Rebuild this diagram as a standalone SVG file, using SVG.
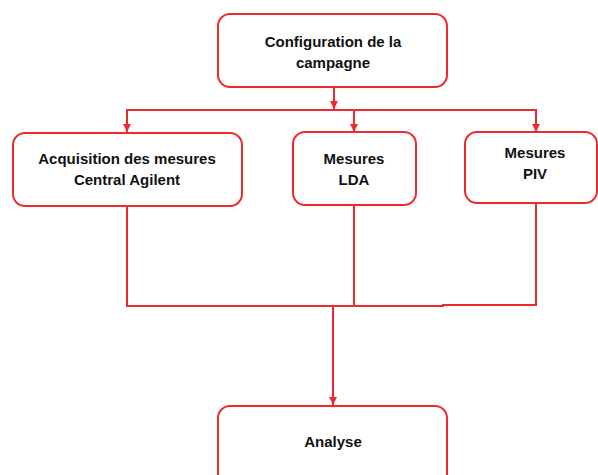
<svg xmlns="http://www.w3.org/2000/svg" width="598" height="475" viewBox="0 0 598 475">
  <style>
    .box { fill: #ffffff; stroke: #ee2a2f; stroke-width: 2; }
    .lbl { font-family: "Liberation Sans", Arial, sans-serif; font-size: 15px; font-weight: bold; fill: #111111; text-anchor: middle; }
    .conn { fill: none; stroke: #ee2a2f; stroke-width: 2; }
  </style>
  <defs>
    <marker id="arr" viewBox="0 0 8 8" refX="8" refY="4" markerWidth="4" markerHeight="4" orient="auto" markerUnits="strokeWidth">
      <path d="M0,0 L8,4 L0,8 Z" fill="#ee2a2f"/>
    </marker>
  </defs>
  <rect width="598" height="475" fill="#ffffff"/>

  <g id="connectors">
    <line class="conn" x1="334" y1="87" x2="334" y2="109" marker-end="url(#arr)"/>
    <polyline class="conn" points="127,132 127,110 536,110 536,132" marker-end="url(#arr)"/>
    <line class="conn" x1="127" y1="110" x2="127" y2="132" marker-end="url(#arr)"/>
    <line class="conn" x1="354" y1="110" x2="354" y2="132" marker-end="url(#arr)"/>
    <polyline class="conn" points="127,206 127,306 443,306 443,305 536,305 536,203"/>
    <line class="conn" x1="354" y1="205" x2="354" y2="306"/>
    <line class="conn" x1="333" y1="306" x2="333" y2="405" marker-end="url(#arr)"/>
  </g>

  <g id="node-config">
    <rect class="box" x="218" y="14" width="229" height="73" rx="12"/>
    <text class="lbl" x="333" y="47">Configuration de la</text>
    <text class="lbl" x="333" y="68">campagne</text>
  </g>

  <g id="node-acquisition">
    <rect class="box" x="13" y="133" width="229" height="73" rx="12"/>
    <text class="lbl" x="127" y="164">Acquisition des mesures</text>
    <text class="lbl" x="127" y="185">Central Agilent</text>
  </g>

  <g id="node-lda">
    <rect class="box" x="293" y="132" width="123" height="73" rx="12"/>
    <text class="lbl" x="354" y="164">Mesures</text>
    <text class="lbl" x="354" y="185">LDA</text>
  </g>

  <g id="node-piv">
    <rect class="box" x="465" y="132" width="132" height="71" rx="12"/>
    <text class="lbl" x="535" y="158">Mesures</text>
    <text class="lbl" x="535" y="179">PIV</text>
  </g>

  <g id="node-analyse">
    <rect class="box" x="218" y="406" width="229" height="80" rx="12"/>
    <text class="lbl" x="333" y="447">Analyse</text>
  </g>
</svg>
